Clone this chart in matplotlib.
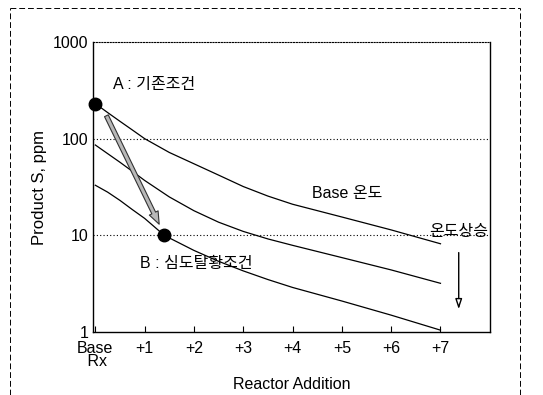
import matplotlib
matplotlib.use("Agg")
import matplotlib.pyplot as plt
from matplotlib.lines import Line2D

plt.rcParams['font.family'] = ['Liberation Sans', 'Noto Sans CJK KR', 'DejaVu Sans']

# Data
x_top = [0, 0.25, 0.5, 0.75, 1, 1.5, 2, 2.5, 3, 3.5, 4, 5, 6, 7]
y_top = [230, 186, 151, 123, 100, 72, 55, 42, 32, 25.5, 21, 15.5, 11.4, 8.2]
x_mid = [0, 0.25, 0.5, 0.75, 1, 1.5, 2, 2.5, 3, 3.5, 4, 5, 6, 7]
y_mid = [86, 70, 57, 46, 37, 25, 18, 13.7, 11, 9.2, 7.9, 5.9, 4.4, 3.2]
x_bot = [0, 0.25, 0.5, 0.75, 1, 1.4, 2, 2.5, 3, 3.5, 4, 5, 6, 7]
y_bot = [33, 28, 23, 18.5, 15, 10, 7, 5.4, 4.3, 3.5, 2.9, 2.1, 1.5, 1.05]
point_A = (0, 230)
point_B = (1.4, 10)
xtick_vals = [0, 1, 2, 3, 4, 5, 6, 7]
xtick_labels = ['Base\n Rx', '+1', '+2', '+3', '+4', '+5', '+6', '+7']
ytick_vals = [1, 10, 100, 1000]
ytick_labels = ['1', '10', '100', '1000']

FS = 11.5

fig = plt.figure(figsize=(5.43, 3.95), dpi=100)
ax = fig.add_axes([0.171, 0.159, 0.731, 0.735])
ax.set_yscale('log')
ax.set_xlim(-0.05, 8.0)
ax.set_ylim(1, 1000)

for yv in [10, 100]:
    ax.axhline(yv, color='black', lw=0.8, ls=(0, (1, 2)), zorder=1)

for xs, ys in [(x_top, y_top), (x_mid, y_mid), (x_bot, y_bot)]:
    ax.plot(xs, ys, color='black', lw=0.9, zorder=2)

ax.plot(*point_A, 'o', color='black', ms=9, zorder=4, clip_on=False)
ax.plot(*point_B, 'o', color='black', ms=9, zorder=4)

ax.annotate('', xy=(1.32, 12.3), xytext=(0.2, 183),
            arrowprops=dict(arrowstyle='simple,head_width=0.7,head_length=0.9,tail_width=0.3',
                            fc='#b8b8b8', ec='#333333', lw=0.8), zorder=3)

ax.annotate('', xy=(7.37, 1.62), xytext=(7.37, 7.1),
            arrowprops=dict(arrowstyle='-|>,head_width=0.2,head_length=0.6',
                            fc='white', ec='black', lw=1.0))

ax.text(0.35, 360, 'A : 기존조건', fontsize=FS, va='center', ha='left')
ax.text(0.9, 5.1, 'B : 심도탈황조건', fontsize=FS, va='center', ha='left')
ax.text(4.4, 27, 'Base 온도', fontsize=FS, va='center', ha='left')
ax.text(7.37, 11.0, '온도상승', fontsize=FS, va='center', ha='center')

ax.set_xticks(xtick_vals)
ax.set_xticklabels(xtick_labels, fontsize=FS, linespacing=0.85)
ax.set_yticks(ytick_vals)
ax.set_yticklabels(ytick_labels, fontsize=FS)
ax.yaxis.set_minor_locator(matplotlib.ticker.NullLocator())
ax.tick_params(axis='x', direction='in', length=4, width=0.8, pad=6)
ax.tick_params(axis='y', length=0, pad=3)

ax.set_xlabel('Reactor Addition', fontsize=FS, labelpad=6)
ax.set_ylabel('Product S, ppm', fontsize=12)
ax.yaxis.set_label_coords(-0.116, 0.5)

ax.spines['top'].set_linestyle((0, (1, 1.5)))
ax.spines['top'].set_linewidth(0.8)
for s in ['left', 'bottom', 'right']:
    ax.spines[s].set_linewidth(1.0)

# outer dashed frame
dash = (0, (6, 3))
fig.add_artist(Line2D([0.018, 0.958], [0.98, 0.98], transform=fig.transFigure, color='black', lw=0.7, ls=dash))
fig.add_artist(Line2D([0.018, 0.018], [0.0, 0.98], transform=fig.transFigure, color='black', lw=0.7, ls=dash))
fig.add_artist(Line2D([0.958, 0.958], [0.0, 0.98], transform=fig.transFigure, color='black', lw=0.7, ls=dash))

fig.savefig('out.png', dpi=100)
